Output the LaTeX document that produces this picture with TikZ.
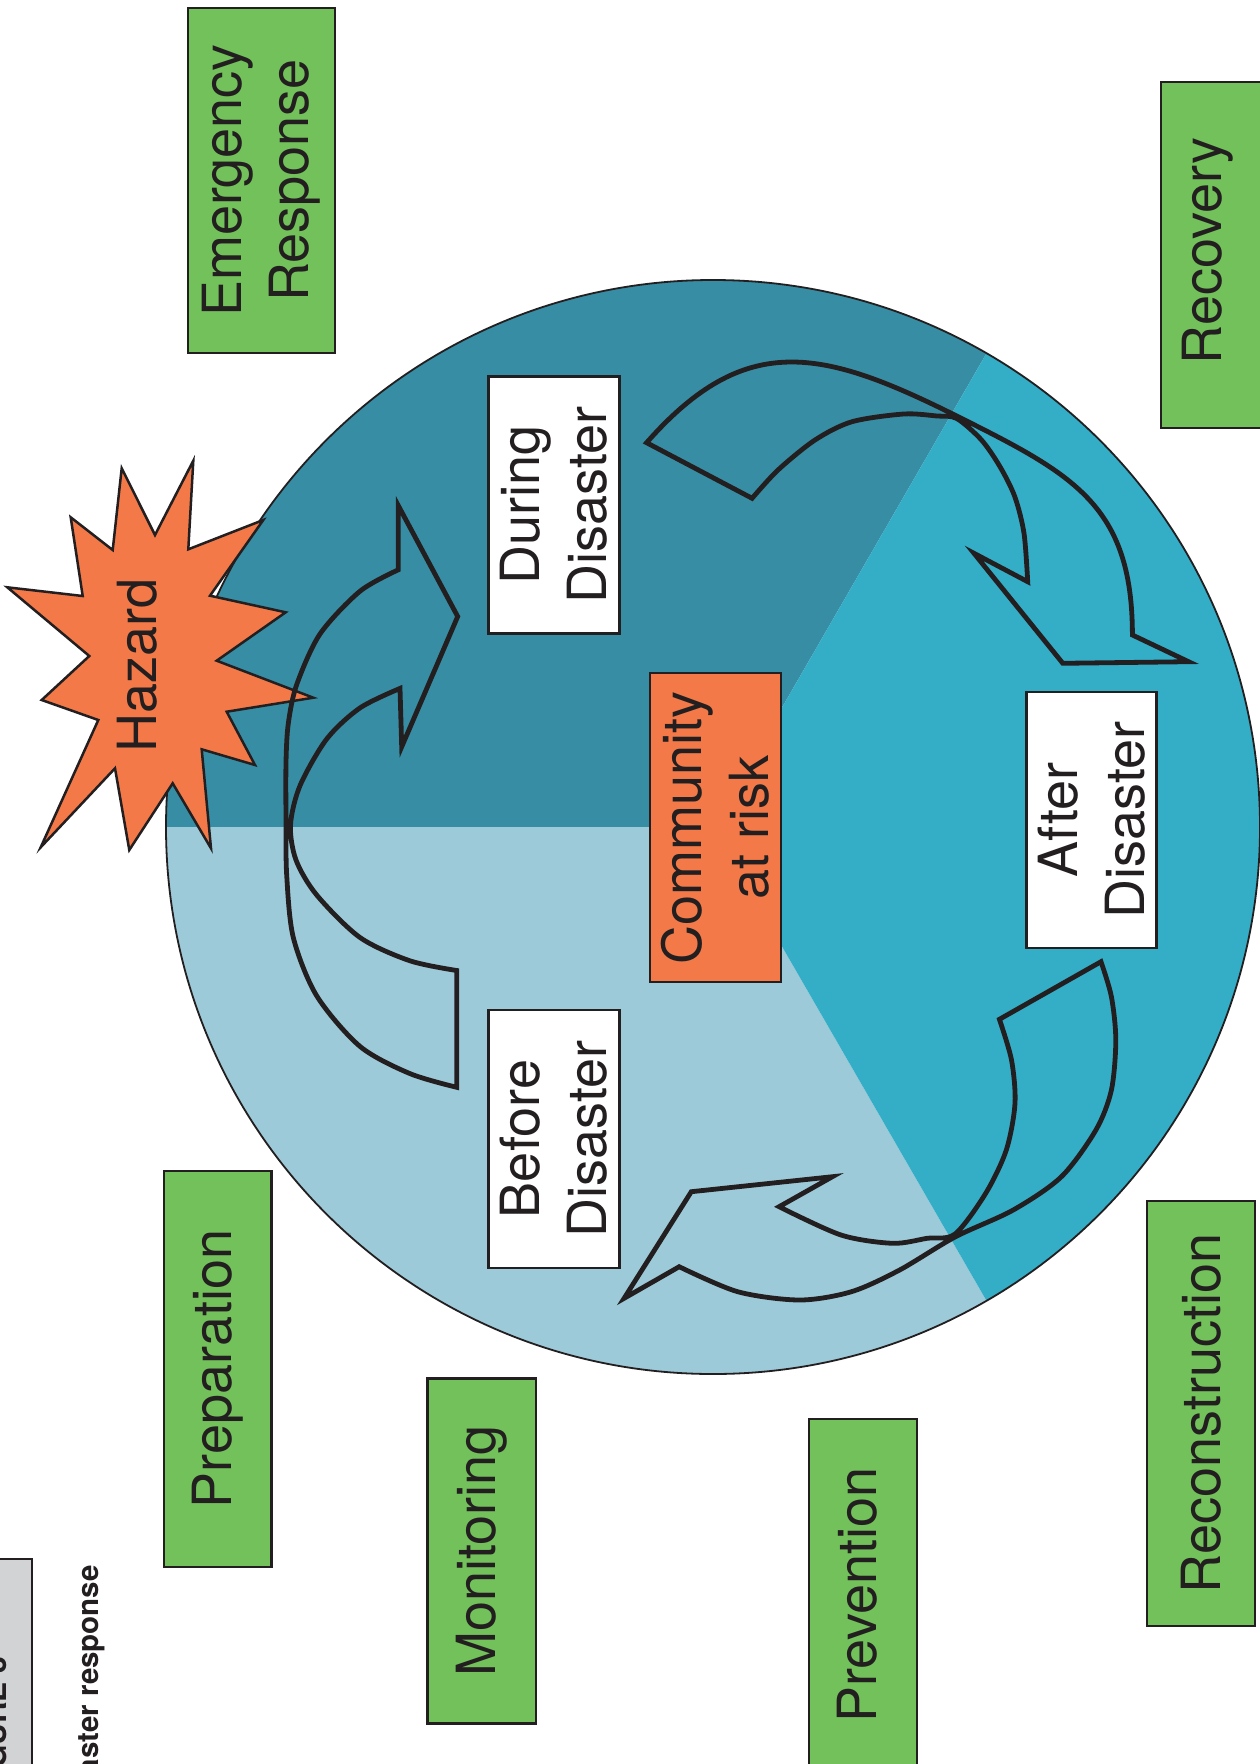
\documentclass[tikz,border=0pt]{standalone}
\usepackage{fontspec}
\setmainfont{TeX Gyre Heros}
\definecolor{cDark}{RGB}{55,141,163}
\definecolor{cLight}{RGB}{157,202,216}
\definecolor{cCyan}{RGB}{52,173,199}
\definecolor{cOrange}{RGB}{243,122,72}
\definecolor{cGreen}{RGB}{114,193,90}
\definecolor{cGray}{RGB}{209,211,212}
\definecolor{cLine}{RGB}{35,31,32}
\newcommand{\bigtxt}{\fontsize{54}{67}\selectfont}
\begin{document}
\begin{tikzpicture}[x=1pt,y=-1pt,
  boxnode/.style={draw=cLine, line width=2.2, rotate=90, inner sep=0, align=center, font=\bigtxt, text=cLine},
  greenbox/.style={boxnode, fill=cGreen},
  whitebox/.style={boxnode, fill=white},
  txtnode/.style={rotate=90, inner sep=0, font=\bigtxt, text=cLine},
  arr/.style={draw=cLine, line width=4.8, line join=miter}]
\useasboundingbox (0,0) rectangle (1260,1764);
\clip (0,0) rectangle (1260,1764);
\fill[white] (0,0) rectangle (1260,1764);
% circle sectors
\coordinate (c) at (713,827);
\fill[cDark] (c) -- ++(180:547) arc[start angle=180,end angle=300,radius=547] -- cycle;
\fill[cLight] (c) -- ++(60:547) arc[start angle=60,end angle=180,radius=547] -- cycle;
\fill[cCyan] (c) -- ++(-60:547) arc[start angle=-60,end angle=60,radius=547] -- cycle;
\draw[cLine, line width=1.8] (c) circle[radius=547];
% hazard star
\filldraw[fill=cOrange, draw=cLine, line width=2.5, line join=miter]
 (193.3,460.7) -- (188.3,549.3) -- (263.3,520) -- (210,595.7) -- (285.7,612.3) -- (216.7,660.7)
 -- (313.3,697.7) -- (226.7,711.7) -- (255,765) -- (201.7,749.3) -- (211,848.3) -- (172.7,783.3)
 -- (129.3,850) -- (115,768.3) -- (40.7,847.3) -- (98.3,720) -- (41.7,700) -- (89.3,656)
 -- (7.3,587.3) -- (82.7,596) -- (70.7,517.3) -- (112.7,550) -- (121.7,468.3) -- (155,535) -- cycle;
\node[txtnode, anchor=base] (hazard) at (156,665.8) {Hazard};
% arrow 1 (before -> during)
\draw[arr] plot[smooth] coordinates {(456.7,1087.3) (410,1073.6) (360,1046.4) (316.7,995.8) (293.3,937.5) (286.7,875.2) (286,822) (286,762.4) (288.3,723.5) (296.7,684.6) (320,634) (360,591.2) (398.3,569.8)}
  -- (398.3,505.6) -- (457.7,616.5) -- (401.7,746.8) -- (400,688.4)
  -- plot[smooth] coordinates {(400,688.4) (360,707.9) (326.7,739) (300,785.7) (290.5,825) (296,860) (316.7,895) (360,937.5) (410,960.8) (456.7,970.5)}
  -- cycle;
% arrow 2 (during -> after)
\draw[arr] (646.6,442.7) .. controls (745.6,330.2) and (822.6,349) .. (956.7,416)
  .. controls (1072.9,474.1) and (1132.4,505) .. (1132.4,635)
  -- (1188.6,661.7) -- (1062.8,663.3) -- (974,553.3) -- (1027.7,581.7)
  -- plot[smooth] coordinates {(1027.7,581.7) (1024,533.3) (1014.8,496.7) (1000,466.7) (981.5,440) (956.7,418.5) (937,416) (903.8,414) (852,421.7) (815,440) (778,470) (752.1,498.3)}
  -- cycle;
% arrow 3 (after -> before)
\draw[arr] plot[smooth] coordinates {(1101,961.7) (1111.4,996.7) (1115.8,1040) (1111.4,1090) (1095.9,1130) (1061.4,1176.7) (1013.2,1210) (955,1237) (899.6,1270) (851.4,1291.7) (799.7,1300) (737.7,1291.7) (679.2,1266.7)}
  -- (624.1,1298.3) -- (691.3,1191.7) -- (832.4,1176.7) -- (779.1,1206.7)
  -- plot[smooth] coordinates {(779.1,1206.7) (841,1235) (892.7,1243.3) (927.1,1238.3) (955,1234) (985.7,1193.3) (1006.3,1150) (1015,1103.3) (1011.5,1060) (999.4,1019.3)}
  -- cycle;
% inner boxes
\node[boxnode, fill=cOrange, minimum width=309, minimum height=131] (community) at (715.5,827.5) {Community\\at risk};
\node[whitebox, minimum width=257, minimum height=131] (during) at (553.9,505) {During\\Disaster};
\node[whitebox, minimum width=258, minimum height=131] (before) at (553.9,1139) {Before\\Disaster};
\node[whitebox, minimum width=256, minimum height=130] (after) at (1091.5,820) {After\\Disaster};
% green boxes
\node[greenbox, minimum width=345, minimum height=147] (emergency) at (261.5,180.5) {Emergency\\Response};
\node[greenbox, minimum width=396, minimum height=107.5] (preparation) at (217.8,1369) {Preparation};
\node[greenbox, minimum width=345, minimum height=108.3] (monitoring) at (481.7,1551) {Monitoring};
\node[greenbox, minimum width=425, minimum height=108.3] (reconstruction) at (1200.8,1413.5) {Reconstruction};
\filldraw[fill=cGreen, draw=cLine, line width=2.2] (1161,82) rectangle (1275,428);
\node[txtnode, anchor=base] (recovery) at (1221.7,250.8) {Recovery};
\filldraw[fill=cGreen, draw=cLine, line width=2.2] (809,1419) rectangle (917,1800);
\node[txtnode, anchor=base] (prevention) at (876.7,1595) {Prevention};
% caption
\filldraw[fill=cGray, draw=cLine, line width=1.8] (-20,1559) rectangle (32,1800);
\node[rotate=90, anchor=base east, inner sep=0, text=cLine, font=\bfseries\fontsize{30}{34}\selectfont] (figlabel) at (6,1657) {FIGURE 3};
\node[rotate=90, anchor=base east, inner sep=0, text=cLine, font=\bfseries\fontsize{29.5}{34}\selectfont] (caption) at (98,1565) {Disaster response};
\end{tikzpicture}
\end{document}
